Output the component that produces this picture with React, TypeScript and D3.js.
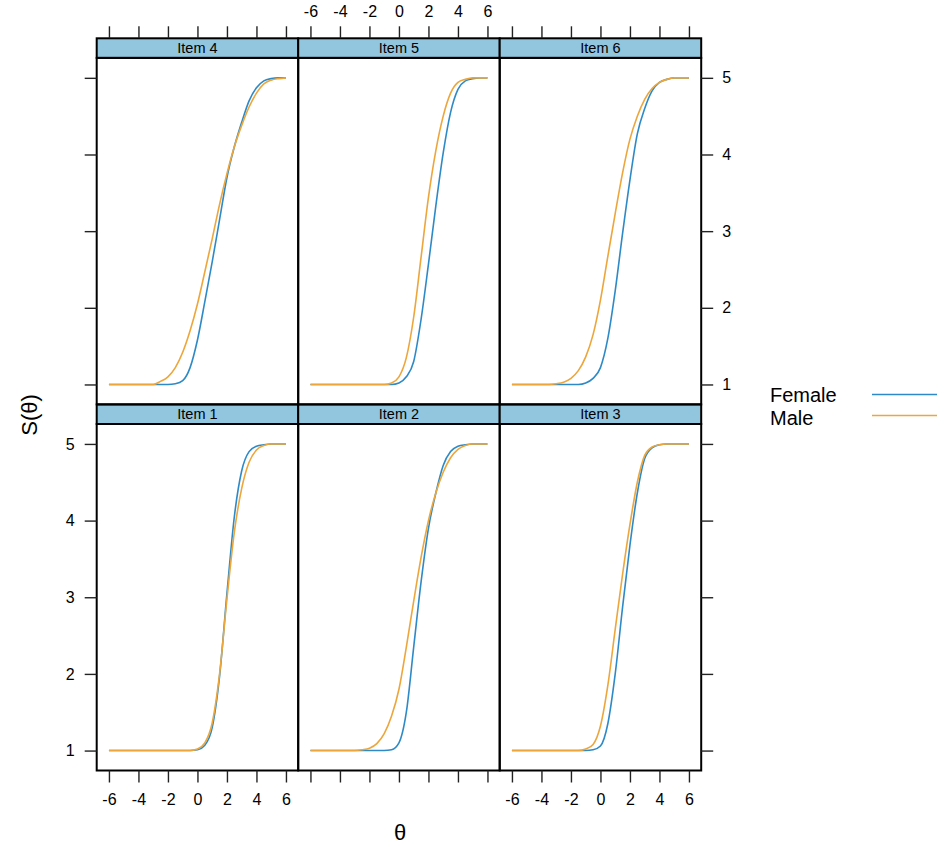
import React, { useEffect, useRef } from 'react';
import * as d3 from 'd3';

// theta grid the curves were read at
const theta = [-6, -5.5, -5, -4.5, -4, -3.5, -3, -2.5, -2, -1.5, -1, -0.5, 0, 0.5, 1, 1.5, 2, 2.5, 3, 3.5, 4, 4.5, 5, 5.5, 6];

const items = ['Item 1', 'Item 2', 'Item 3', 'Item 4', 'Item 5', 'Item 6'];
const groups = ['Female', 'Male'];
const groupColors = ['#2e8ac6', '#eca63c'];
const xTicks = [-6, -4, -2, 0, 2, 4, 6];
const yTicks = [1, 2, 3, 4, 5];

// expected item scores S(theta)
const item1Female = [1, 1, 1, 1, 1, 1, 1, 1, 1, 1, 1, 1, 1.01, 1.07, 1.3, 1.97, 3.05, 4.05, 4.65, 4.9, 4.97, 4.99, 5, 5, 5];
const item1Male = [1, 1, 1, 1, 1, 1, 1, 1, 1, 1, 1, 1, 1.02, 1.1, 1.36, 2.0, 2.98, 3.85, 4.42, 4.76, 4.92, 4.98, 5, 5, 5];
const item2Female = [1, 1, 1, 1, 1, 1, 1, 1, 1, 1, 1, 1.01, 1.1, 1.5, 2.35, 3.2, 3.9, 4.36, 4.72, 4.9, 4.97, 4.99, 5, 5, 5];
const item2Male = [1, 1, 1, 1, 1, 1, 1, 1.01, 1.03, 1.09, 1.22, 1.45, 1.8, 2.35, 2.95, 3.52, 4.0, 4.36, 4.63, 4.82, 4.93, 4.98, 5, 5, 5];
const item3Female = [1, 1, 1, 1, 1, 1, 1, 1, 1, 1, 1, 1.01, 1.06, 1.35, 2.0, 2.87, 3.68, 4.36, 4.81, 4.95, 4.99, 5, 5, 5, 5];
const item3Male = [1, 1, 1, 1, 1, 1, 1, 1, 1, 1, 1.02, 1.08, 1.32, 1.85, 2.58, 3.3, 3.95, 4.5, 4.85, 4.96, 4.99, 5, 5, 5, 5];
const item4Female = [1, 1, 1, 1, 1, 1, 1, 1, 1, 1.01, 1.05, 1.22, 1.58, 2.08, 2.6, 3.15, 3.7, 4.1, 4.42, 4.7, 4.87, 4.96, 4.99, 5, 5];
const item4Male = [1, 1, 1, 1, 1, 1, 1, 1.04, 1.1, 1.22, 1.42, 1.7, 2.05, 2.47, 2.9, 3.35, 3.75, 4.1, 4.38, 4.62, 4.8, 4.92, 4.97, 4.99, 5];
const item5Female = [1, 1, 1, 1, 1, 1, 1, 1, 1, 1, 1, 1, 1.02, 1.1, 1.3, 1.85, 2.57, 3.33, 4.02, 4.55, 4.85, 4.96, 4.99, 5, 5];
const item5Male = [1, 1, 1, 1, 1, 1, 1, 1, 1, 1, 1, 1.02, 1.1, 1.35, 1.88, 2.66, 3.44, 4.05, 4.5, 4.8, 4.94, 4.98, 5, 5, 5];
const item6Female = [1, 1, 1, 1, 1, 1, 1, 1, 1, 1, 1.02, 1.08, 1.22, 1.6, 2.22, 2.97, 3.67, 4.27, 4.6, 4.83, 4.94, 4.98, 5, 5, 5];
const item6Male = [1, 1, 1, 1, 1, 1, 1.01, 1.03, 1.08, 1.18, 1.36, 1.65, 2.1, 2.67, 3.23, 3.76, 4.2, 4.5, 4.72, 4.86, 4.94, 4.98, 5, 5, 5];

const femaleSeries = [item1Female, item2Female, item3Female, item4Female, item5Female, item6Female];
const maleSeries = [item1Male, item2Male, item3Male, item4Male, item5Male, item6Male];

const width = 945;
const height = 847;
const left = 96.7;
const colW = 201.5;
const top = 38.3;
const stripH = 19.6;
const plotH = 346.5;
const font = '"Liberation Sans", Arial, Helvetica, sans-serif';

const App: React.FC = () => {
  const svgRef = useRef<SVGSVGElement | null>(null);

  useEffect(() => {
    const svg = d3.select(svgRef.current);
    svg.selectAll('*').remove();

    const styleAxis = (g: any) => {
      g.select('.domain').remove();
      g.attr('font-size', 16).attr('font-family', font);
      g.selectAll('line').attr('stroke', '#222').attr('stroke-width', 1.4);
      g.selectAll('text').attr('fill', '#000');
    };
    const fmt = (d: any) => String(d);
    const blank = () => '';

    items.forEach((item, i) => {
      const row = i < 3 ? 1 : 0;
      const col = i % 3;
      const x0 = left + col * colW;
      const stripY = top + row * (stripH + plotH);
      const y0 = stripY + stripH;

      const x = d3.scaleLinear().domain([-6.83, 6.83]).range([x0, x0 + colW]);
      const y = d3.scaleLinear().domain([0.74, 5.26]).range([y0 + plotH, y0]);

      const g = svg.append('g');

      // strip
      g.append('rect')
        .attr('x', x0).attr('y', stripY)
        .attr('width', colW).attr('height', stripH)
        .attr('fill', '#92c5de')
        .attr('stroke', '#000').attr('stroke-width', 2);
      g.append('text')
        .attr('x', x0 + colW / 2).attr('y', stripY + stripH / 2 + 5)
        .attr('text-anchor', 'middle')
        .attr('font-family', font).attr('font-size', 14.5)
        .text(item);

      const line = d3.line<number>()
        .x((_, j) => x(theta[j]))
        .y((d) => y(d))
        .curve(d3.curveMonotoneX);

      [femaleSeries[i], maleSeries[i]].forEach((vals, k) => {
        g.append('path')
          .datum(vals)
          .attr('fill', 'none')
          .attr('stroke', groupColors[k])
          .attr('stroke-width', 1.6)
          .attr('d', line as any);
      });

      // panel border
      g.append('rect')
        .attr('x', x0).attr('y', y0)
        .attr('width', colW).attr('height', plotH)
        .attr('fill', 'none')
        .attr('stroke', '#000').attr('stroke-width', 2);

      // alternating lattice axes
      if (row === 1) {
        g.append('g')
          .attr('transform', `translate(0,${y0 + plotH})`)
          .call(d3.axisBottom(x).tickValues(xTicks).tickSize(12).tickPadding(11).tickFormat(col === 1 ? blank : fmt) as any)
          .call(styleAxis);
      } else {
        g.append('g')
          .attr('transform', `translate(0,${stripY})`)
          .call(d3.axisTop(x).tickValues(xTicks).tickSize(12).tickPadding(9).tickFormat(col === 1 ? fmt : blank) as any)
          .call(styleAxis);
      }
      if (col === 0) {
        g.append('g')
          .attr('transform', `translate(${x0},0)`)
          .call(d3.axisLeft(y).tickValues(yTicks).tickSize(12).tickPadding(10).tickFormat(row === 1 ? fmt : blank) as any)
          .call(styleAxis);
      }
      if (col === 2) {
        g.append('g')
          .attr('transform', `translate(${x0 + colW},0)`)
          .call(d3.axisRight(y).tickValues(yTicks).tickSize(12).tickPadding(9).tickFormat(row === 0 ? fmt : blank) as any)
          .call(styleAxis);
      }
    });

    // legend
    groups.forEach((name, k) => {
      svg.append('text')
        .attr('x', 770).attr('y', 401.5 + k * 23)
        .attr('font-family', font).attr('font-size', 20)
        .text(name);
      svg.append('line')
        .attr('x1', 872).attr('x2', 937)
        .attr('y1', 394.5 + k * 21).attr('y2', 394.5 + k * 21)
        .attr('stroke', groupColors[k]).attr('stroke-width', 1.6);
    });

    // axis titles
    svg.append('text')
      .attr('transform', 'translate(37,415) rotate(-90)')
      .attr('text-anchor', 'middle')
      .attr('font-family', font).attr('font-size', 22)
      .text('S(θ)');
    svg.append('text')
      .attr('x', 400).attr('y', 840)
      .attr('text-anchor', 'middle')
      .attr('font-family', font).attr('font-size', 22)
      .text('θ');
  }, []);

  return (
    <svg
      ref={svgRef}
      width={width}
      height={height}
      style={{ position: 'absolute', left: 0, top: 0, background: '#fff' }}
    ></svg>
  );
};

export default App;
